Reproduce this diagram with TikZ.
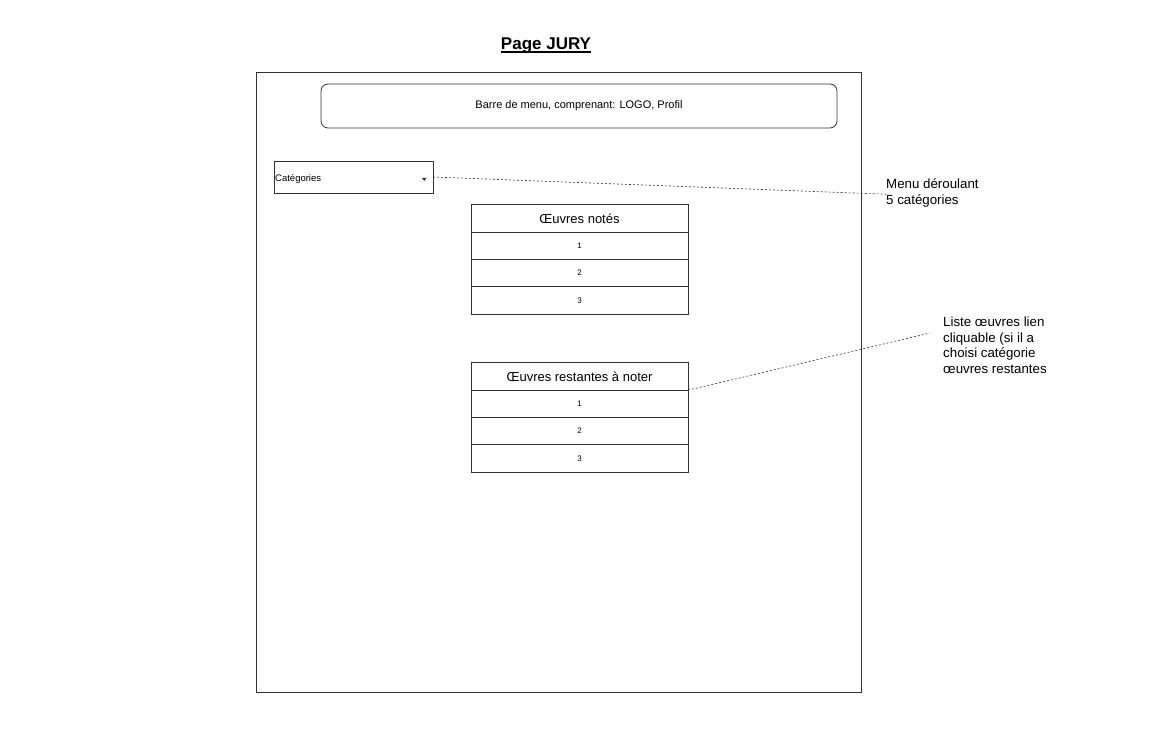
\documentclass[tikz,border=0pt]{standalone}
\usepackage{fontspec}
\setmainfont{Liberation Sans}
\usetikzlibrary{positioning}
\begin{document}
\begin{tikzpicture}[x=1pt, y=-1pt,
    cadre/.style={draw=black!80, line width=0.8pt, inner sep=0pt, outer sep=0pt},
    ligne/.style={cadre, minimum width=217pt, minimum height=27.3pt, font=\fontsize{8}{9}\selectfont},
    entete/.style={ligne, font=\fontsize{13}{15}\selectfont},
    renvoi/.style={draw=black!80, line width=0.6pt, dash pattern=on 2pt off 2pt},
    remarque/.style={anchor=north west, align=left, inner sep=0pt, font=\fontsize{13.3}{15.5}\selectfont}]
\useasboundingbox (0,0) rectangle (1174,743);

% titre et cadre de la page
\node[anchor=base, inner sep=0pt, font=\fontsize{17}{19}\selectfont\bfseries] (titre) at (546,50) {Page JURY};
\draw[line width=1.3pt] ([yshift=-2pt]titre.base west) -- ([yshift=-2pt]titre.base east);
\node[cadre, minimum width=605pt, minimum height=620pt] (page) at (558.5,382) {};

% barre de menu
\node[cadre, rounded corners=7pt, minimum width=516pt, minimum height=44pt,
    font=\fontsize{11}{13}\selectfont] (menu) at (579,106) {Barre de menu, comprenant: LOGO, Profil};

% menu deroulant
\node[cadre, minimum width=159pt, minimum height=32pt] (cat) at (353.5,177) {};
\node[anchor=west, inner sep=1pt, font=\fontsize{9.5}{11}\selectfont] (cattxt) at ([yshift=-2pt]cat.west) {Catégories};
\fill[black!80] (422,178) -- (426.5,178) -- (424.25,181) -- cycle;

% oeuvres notees
\node[entete] (notes) at (579.5,218.5) {Œuvres notés};
\node[ligne, below=0pt of notes] (notes1) {1};
\node[ligne, below=0pt of notes1] (notes2) {2};
\node[ligne, below=0pt of notes2] (notes3) {3};

% oeuvres restantes
\node[entete] (reste) at (579.5,376.5) {Œuvres restantes à noter};
\node[ligne, below=0pt of reste] (reste1) {1};
\node[ligne, below=0pt of reste1] (reste2) {2};
\node[ligne, below=0pt of reste2] (reste3) {3};

% remarques
\node[remarque] (menutxt) at (886,179) {Menu déroulant\\5 catégories};
\node[remarque] (liste) at (943,317) {Liste œuvres lien\\cliquable (si il a\\choisi catégorie\\œuvres restantes};
\coordinate (listefin) at (930,333);

\draw[renvoi] (cat.east) -- ([yshift=-1pt]menutxt.west);
\draw[renvoi] (reste.south east) -- (listefin);
\end{tikzpicture}
\end{document}
